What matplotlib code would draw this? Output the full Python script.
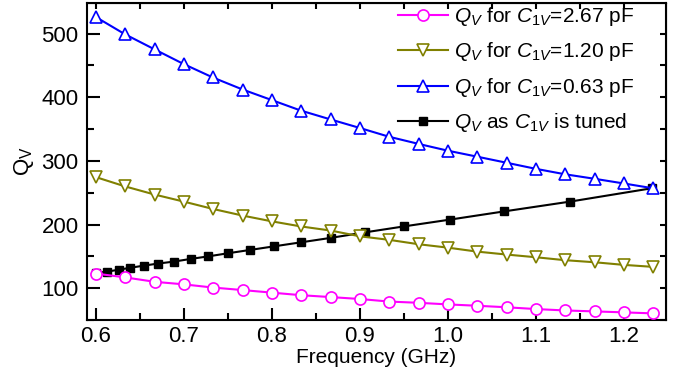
import matplotlib
matplotlib.use("Agg")
import matplotlib.pyplot as plt
from matplotlib.ticker import MultipleLocator, NullFormatter

plt.rcParams['font.family'] = ['Liberation Sans', 'DejaVu Sans']
plt.rcParams['mathtext.fontset'] = 'custom'
plt.rcParams['mathtext.rm'] = 'Liberation Sans'
plt.rcParams['mathtext.it'] = 'Liberation Sans:italic'
plt.rcParams['font.size'] = 15

# data
freq = [0.600, 0.633, 0.667, 0.700, 0.733, 0.767, 0.800, 0.833, 0.867, 0.900,
        0.933, 0.967, 1.000, 1.033, 1.067, 1.100, 1.133, 1.167, 1.200, 1.233]
q_267 = [123, 117, 110, 106, 101, 97, 93, 89, 86, 83,
         79, 77, 74.5, 72.4, 70, 67.2, 65, 63.5, 62, 60.4]
q_120 = [274.5, 260, 247, 236, 224.5, 214, 205, 197, 190.5, 181.5,
         176, 169, 163.7, 157.5, 152.8, 148.6, 144, 140.7, 136.6, 133.5]
q_063 = [526, 499, 475, 452, 431, 412, 395.5, 379, 365, 351.7,
         338, 326.6, 316, 306.7, 297, 287.5, 279, 271.8, 264.5, 257]

freq_tuned = [0.600, 0.613, 0.626, 0.639, 0.655, 0.671, 0.689, 0.708, 0.728, 0.750,
              0.775, 0.803, 0.833, 0.867, 0.906, 0.950, 1.002, 1.064, 1.139, 1.232]
q_tuned = [124, 126, 129, 132, 135.5, 138.7, 141.8, 146, 150, 154.8,
           160, 165.8, 172, 179, 187.7, 197, 207.6, 220.6, 236, 257]

labels = [r'$Q_V$ for $C_{\mathit{1V}}$=2.67 pF',
          r'$Q_V$ for $C_{\mathit{1V}}$=1.20 pF',
          r'$Q_V$ for $C_{\mathit{1V}}$=0.63 pF',
          r'$Q_V$ as $C_{\mathit{1V}}$ is tuned']

fig = plt.figure(figsize=(6.86, 3.77), dpi=100)
ax = fig.add_axes([87/686, 1 - 320/377, 579/686, 317/377])

# tuned curve first so the others sit on top of it
l4, = ax.plot(freq_tuned, q_tuned, '-s', color='black', lw=1.5, ms=6, zorder=2)
l1, = ax.plot(freq, q_267, '-o', color='#FF00FF', mfc='white', lw=1.5, ms=8, mew=1.2, zorder=3)
l2, = ax.plot(freq, q_120, '-v', color='#808000', mfc='white', lw=1.5, ms=8.5, mew=1.2, zorder=3)
l3, = ax.plot(freq, q_063, '-^', color='#0000FF', mfc='white', lw=1.5, ms=8.5, mew=1.2, zorder=3)

ax.set_xlim(0.59, 1.248)
ax.set_ylim(50, 548)
ax.xaxis.set_major_locator(MultipleLocator(0.1))
ax.xaxis.set_minor_locator(MultipleLocator(0.05))
ax.yaxis.set_major_locator(MultipleLocator(100))
ax.yaxis.set_minor_locator(MultipleLocator(50))
ax.tick_params(which='major', direction='in', length=9, width=1.5, labelsize=16)
ax.tick_params(which='minor', direction='in', length=5, width=1.5)
ax.tick_params(axis='x', pad=4)
ax.tick_params(axis='y', pad=6)
for s in ax.spines.values():
    s.set_linewidth(1.5)

# short ticks on top and right, no labels
top = ax.secondary_xaxis('top')
top.xaxis.set_major_locator(MultipleLocator(0.1))
top.xaxis.set_minor_locator(MultipleLocator(0.05))
top.xaxis.set_major_formatter(NullFormatter())
top.tick_params(which='both', direction='in', length=4, width=1.5)
right = ax.secondary_yaxis('right')
right.yaxis.set_major_locator(MultipleLocator(100))
right.yaxis.set_minor_locator(MultipleLocator(50))
right.yaxis.set_major_formatter(NullFormatter())
right.tick_params(which='both', direction='in', length=4, width=1.5)

ax.set_xlabel('Frequency (GHz)', fontsize=15, labelpad=1)
ax.set_ylabel(r'Q$_\mathrm{V}$', fontsize=16, labelpad=4)

ax.legend([l1, l2, l3, l4], labels, loc='upper left', bbox_to_anchor=(0.505, 1.053),
          frameon=False, handlelength=2.4, handletextpad=0.3, labelspacing=0.6,
          fontsize=15)

fig.savefig('out.png', dpi=100)
